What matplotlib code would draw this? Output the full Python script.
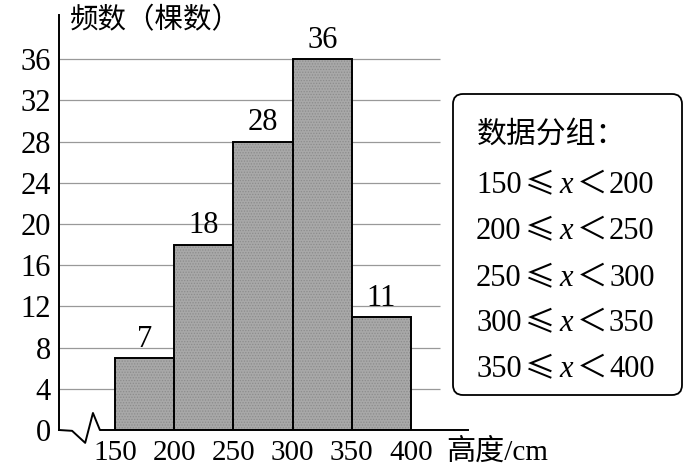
import matplotlib
matplotlib.use('Agg')
import matplotlib.pyplot as plt
from matplotlib.patches import FancyBboxPatch
from matplotlib.lines import Line2D
from matplotlib.transforms import IdentityTransform

# ---------------- data ----------------
bin_edges = [150, 200, 250, 300, 350, 400]
counts = [7, 18, 28, 36, 11]
y_ticks = [0, 4, 8, 12, 16, 20, 24, 28, 32, 36]
x_tick_labels = ['150', '200', '250', '300', '350', '400']
legend_title = '数据分组：'
group_lows = [150, 200, 250, 300, 350]
group_highs = [200, 250, 300, 350, 400]
y_label = '频数（棵数）'
x_label = '高度/cm'

SERIF = 'Liberation Serif'
CJK = 'Noto Sans CJK SC'
plt.rcParams['font.family'] = [SERIF, CJK]
plt.rcParams['hatch.linewidth'] = 0.6

W, H = 689, 470
fig = plt.figure(figsize=(W / 100, H / 100), dpi=100)
ax = fig.add_axes([59 / W, 40 / H, 409 / W, 415 / H])
ax.set_xlim(102.7, 448.1)
ax.set_ylim(0, 40.3)

widths = [b - a for a, b in zip(bin_edges[:-1], bin_edges[1:])]
ax.bar(bin_edges[:-1], counts, width=widths, align='edge', color='#a8a8a8',
       edgecolor='#8c8c8c', hatch='......', linewidth=0, zorder=2)
ax.bar(bin_edges[:-1], counts, width=widths, align='edge', fill=False,
       edgecolor='black', linewidth=1.4, zorder=3)

for x0, w, c in zip(bin_edges[:-1], widths, counts):
    ax.annotate(str(c), (x0 + w / 2, c), xytext=(0, 3), textcoords='offset points',
                ha='center', va='bottom', fontsize=22, family=SERIF)

# gridlines
ax.hlines(y_ticks[1:], 102.7, 424.5, colors='#999999', lw=0.9, zorder=1)

for s in ['top', 'right', 'bottom']:
    ax.spines[s].set_visible(False)
ax.spines['left'].set_linewidth(1.4)

# x axis with break
zx = [0, 0.032, 0.064, 0.083, 0.100, 1.0]
zy = [0, -0.002, -0.031, 0.041, 0, 0]
ax.add_line(Line2D(zx, zy, transform=ax.transAxes, color='black', lw=1.4,
                   clip_on=False, zorder=4))

ax.set_yticks(y_ticks)
ax.set_yticklabels([str(v) for v in y_ticks])
ax.tick_params(axis='y', length=0, pad=6, labelsize=22)
ax.set_xticks(bin_edges)
ax.set_xticklabels(x_tick_labels)
ax.tick_params(axis='x', length=0, pad=7, labelsize=21)

ax.annotate(x_label, (429.5, 0), xytext=(0, -16), textcoords='offset points',
            ha='left', va='center', fontsize=21, family=[SERIF, CJK],
            annotation_clip=False)

fig.text(70 / W, 1 - 20 / H, y_label, family=CJK, fontsize=20.5, va='center', ha='left')

# legend box
box = FancyBboxPatch((453, H - 395), 682 - 453, 395 - 94,
                     boxstyle='round,pad=0,rounding_size=10',
                     transform=IdentityTransform(), facecolor='white',
                     edgecolor='black', lw=1.3)
fig.add_artist(box)

renderer = fig.canvas.get_renderer()


def row(x_px, base_px, parts, fs=22):
    x = x_px
    for s, fam, style, gap in parts:
        x += gap
        t = fig.text(x / W, 1 - base_px / H, s, family=fam, style=style,
                     fontsize=fs, va='baseline', ha='left')
        bb = t.get_window_extent(renderer)
        x = bb.x1


row(477, 143, [(legend_title, CJK, 'normal', 0)], fs=21.5)
bases = [193, 239, 286, 331, 377]
for lo, hi, b in zip(group_lows, group_highs, bases):
    row(476, b, [(str(lo), SERIF, 'normal', 0),
                 ('≤', CJK, 'normal', 3),
                 ('x', SERIF, 'italic', 4),
                 ('＜', CJK, 'normal', 4),
                 (str(hi), SERIF, 'normal', 2)])

fig.savefig('out.png', dpi=100)
